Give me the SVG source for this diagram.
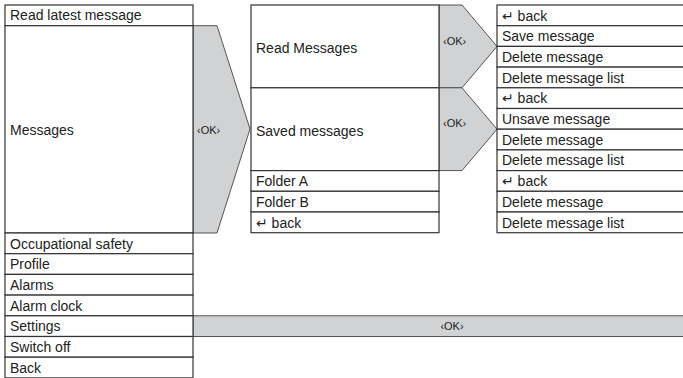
<svg xmlns="http://www.w3.org/2000/svg" width="683" height="378" viewBox="0 0 683 378">
<style>
.cell{fill:#fff;stroke:#333;stroke-width:1.2}
.arr{fill:#d1d2d4;stroke:#444;stroke-width:0.9;stroke-linejoin:miter}
.t{font-family:"Liberation Sans",Arial,sans-serif;font-size:14px;fill:#222}
.ok{font-family:"Liberation Sans",Arial,sans-serif;font-size:11px;fill:#222}
.bk{font-family:"DejaVu Sans","Liberation Sans",sans-serif;font-size:14px;fill:#222}
</style>
<rect width="683" height="378" fill="#fff"/>
<g id="connectors">
<polygon class="arr" points="193,25.7 217,25.7 250,129 217,233 193,233"/>
<text class="ok" x="197" y="134">‹OK›</text>
<polygon class="arr" points="439,5 462,5 497,46.4 462,87.8 439,87.8"/>
<text class="ok" x="443" y="45">‹OK›</text>
<polygon class="arr" points="439,87.8 462,87.8 497,129.2 462,170.6 439,170.6"/>
<text class="ok" x="443" y="127">‹OK›</text>
<rect class="arr" x="193" y="315.8" width="495" height="20.7"/>
<text class="ok" x="452" y="329.5" text-anchor="middle">‹OK›</text>
</g>
<g id="n-read-latest"><rect class="cell" x="5" y="5" width="188" height="20.7"/><text class="t" x="10" y="20">Read latest message</text></g>
<g id="n-messages"><rect class="cell" x="5" y="25.7" width="188" height="207.3"/><text class="t" x="10" y="135">Messages</text></g>
<g id="n-occ"><rect class="cell" x="5" y="233" width="188" height="20.7"/><text class="t" x="10" y="248.5">Occupational safety</text></g>
<g id="n-profile"><rect class="cell" x="5" y="253.7" width="188" height="20.7"/><text class="t" x="10" y="269.2">Profile</text></g>
<g id="n-alarms"><rect class="cell" x="5" y="274.4" width="188" height="20.7"/><text class="t" x="10" y="289.9">Alarms</text></g>
<g id="n-alarmclock"><rect class="cell" x="5" y="295.1" width="188" height="20.7"/><text class="t" x="10" y="310.6">Alarm clock</text></g>
<g id="n-settings"><rect class="cell" x="5" y="315.8" width="188" height="20.7"/><text class="t" x="10" y="331.3">Settings</text></g>
<g id="n-switchoff"><rect class="cell" x="5" y="336.5" width="188" height="20.7"/><text class="t" x="10" y="352">Switch off</text></g>
<g id="n-back"><rect class="cell" x="5" y="357.2" width="188" height="20.7"/><text class="t" x="10" y="372.7">Back</text></g>

<g id="n-readmsgs"><rect class="cell" x="251" y="5" width="188" height="82.8"/><text class="t" x="256" y="52.5">Read Messages</text></g>
<g id="n-saved"><rect class="cell" x="251" y="87.8" width="188" height="82.8"/><text class="t" x="256" y="136">Saved messages</text></g>
<g id="n-foldera"><rect class="cell" x="251" y="170.6" width="188" height="20.7"/><text class="t" x="256" y="186.1">Folder A</text></g>
<g id="n-folderb"><rect class="cell" x="251" y="191.3" width="188" height="20.7"/><text class="t" x="256" y="206.8">Folder B</text></g>
<g id="n-mback"><rect class="cell" x="251" y="212" width="188" height="20.7"/><text class="t" x="256" y="227.5"><tspan class="bk">↵</tspan> back</text></g>

<g id="n-r1"><rect class="cell" x="497" y="5" width="190" height="20.7"/><text class="t" x="502" y="20.5"><tspan class="bk">↵</tspan> back</text></g>
<g id="n-r2"><rect class="cell" x="497" y="25.7" width="190" height="20.7"/><text class="t" x="502" y="41.2">Save message</text></g>
<g id="n-r3"><rect class="cell" x="497" y="46.4" width="190" height="20.7"/><text class="t" x="502" y="61.9">Delete message</text></g>
<g id="n-r4"><rect class="cell" x="497" y="67.1" width="190" height="20.7"/><text class="t" x="502" y="82.6">Delete message list</text></g>
<g id="n-r5"><rect class="cell" x="497" y="87.8" width="190" height="20.7"/><text class="t" x="502" y="103.3"><tspan class="bk">↵</tspan> back</text></g>
<g id="n-r6"><rect class="cell" x="497" y="108.5" width="190" height="20.7"/><text class="t" x="502" y="124">Unsave message</text></g>
<g id="n-r7"><rect class="cell" x="497" y="129.2" width="190" height="20.7"/><text class="t" x="502" y="144.7">Delete message</text></g>
<g id="n-r8"><rect class="cell" x="497" y="149.9" width="190" height="20.7"/><text class="t" x="502" y="165.4">Delete message list</text></g>
<g id="n-r9"><rect class="cell" x="497" y="170.6" width="190" height="20.7"/><text class="t" x="502" y="186.1"><tspan class="bk">↵</tspan> back</text></g>
<g id="n-r10"><rect class="cell" x="497" y="191.3" width="190" height="20.7"/><text class="t" x="502" y="206.8">Delete message</text></g>
<g id="n-r11"><rect class="cell" x="497" y="212" width="190" height="20.7"/><text class="t" x="502" y="227.5">Delete message list</text></g>
</svg>
